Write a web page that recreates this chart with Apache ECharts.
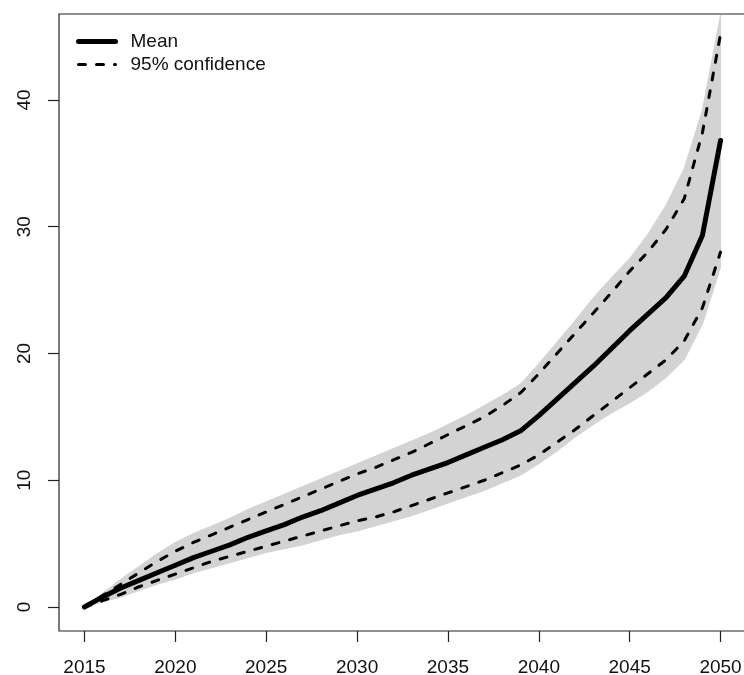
<!DOCTYPE html>
<html>
<head>
<meta charset="utf-8">
<script src="https://cdn.jsdelivr.net/npm/echarts@6/dist/echarts.min.js"></script>
<style>html,body{margin:0;padding:0;background:#fff}#c{width:744px;height:675px}</style>
</head>
<body>
<div id="c"></div>
<script>
const years = [2015,2016,2017,2018,2019,2020,2021,2022,2023,2024,2025,2026,2027,2028,2029,2030,2031,2032,2033,2034,2035,2036,2037,2038,2039,2040,2041,2042,2043,2044,2045,2046,2047,2048,2049,2050];
const meanVals = [0,0.8,1.5,2.1,2.7,3.3,3.9,4.4,4.9,5.5,6.0,6.5,7.1,7.6,8.2,8.8,9.3,9.8,10.4,10.9,11.4,12.0,12.6,13.2,13.9,15.1,16.4,17.7,19.0,20.4,21.8,23.1,24.4,26.1,29.3,36.8];
const upperCI = [0,0.9,1.8,2.7,3.6,4.4,5.1,5.7,6.3,6.9,7.5,8.1,8.7,9.3,9.9,10.5,11.0,11.6,12.2,12.9,13.6,14.3,15.0,15.9,16.9,18.4,20.0,21.6,23.2,24.8,26.5,28.0,29.8,32.2,37.4,45.2];
const lowerCI = [0,0.5,1.0,1.6,2.1,2.6,3.1,3.6,4.0,4.4,4.8,5.2,5.6,6.0,6.4,6.8,7.1,7.5,8.0,8.5,9.0,9.5,10.0,10.6,11.2,12.0,13.0,14.0,15.1,16.2,17.3,18.4,19.5,21.0,23.6,28.0];
const envHigh = [0,1.1,2.2,3.2,4.2,5.1,5.8,6.4,7.0,7.7,8.3,8.9,9.5,10.1,10.7,11.3,11.9,12.5,13.1,13.7,14.4,15.1,15.9,16.7,17.6,19.2,20.9,22.6,24.4,26.0,27.5,29.4,31.7,34.6,39.2,46.7];
const envLow = [0,0.4,0.8,1.3,1.8,2.2,2.7,3.1,3.5,3.9,4.3,4.6,4.9,5.3,5.7,6.0,6.4,6.8,7.2,7.7,8.2,8.7,9.2,9.8,10.4,11.3,12.3,13.4,14.4,15.3,16.1,17.0,18.1,19.5,22.3,26.8];
const xTicks = [2015,2020,2025,2030,2035,2040,2045,2050];
const yTicks = [0,10,20,30,40];

const pairs = v => years.map((y, i) => [y, v[i]]);
const envData = years.map((y, i) => [y, envLow[i], envHigh[i]]);
const font = '"Liberation Sans", Arial, sans-serif';
const txt = { color: '#111', fontFamily: font, fontSize: 19 };
const dashStyle = { color: '#000', width: 3, type: [7, 11], cap: 'round' };

const chart = echarts.init(document.getElementById('c'), null, { renderer: 'canvas' });
chart.setOption({
  animation: false,
  backgroundColor: '#fff',
  grid: {
    left: 59, top: 14, width: 687, height: 617,
    show: true, borderColor: '#222', borderWidth: 1.2,
    containLabel: false, outerBoundsMode: 'none'
  },
  xAxis: {
    type: 'value', min: 2013.6, max: 2051.4,
    splitLine: { show: false },
    axisLine: { show: false, onZero: false },
    axisTick: { show: true, length: 11, lineStyle: { color: '#222', width: 1.2 }, customValues: xTicks },
    axisLabel: { customValues: xTicks, margin: 27, formatter: v => String(v), ...txt }
  },
  yAxis: {
    type: 'value', min: -1.89, max: 46.78,
    splitLine: { show: false },
    axisLine: { show: false, onZero: false },
    axisTick: { show: true, length: 11, lineStyle: { color: '#222', width: 1.2 }, customValues: yTicks },
    axisLabel: { customValues: yTicks, rotate: 90, margin: 25, formatter: v => String(v), ...txt }
  },
  legend: {
    data: ['Mean', '95% confidence'],
    orient: 'vertical', left: 76, top: 32, padding: 0,
    itemWidth: 37, itemHeight: 19, itemGap: 4,
    itemStyle: { opacity: 0 },
    lineStyle: { width: 'inherit' },
    textStyle: { ...txt, padding: [0, 0, 0, 10] }
  },
  series: [
    { name: 'envelope', type: 'custom', data: envData, encode: { x: 0, y: [1, 2] }, silent: true, z: 1,
      renderItem: (params, api) => {
        if (params.dataIndex !== 0) return null;
        const top = envData.map(d => api.coord([d[0], d[2]]));
        const bot = envData.map(d => api.coord([d[0], d[1]])).reverse();
        return { type: 'polygon', shape: { points: top.concat(bot) },
                 style: { fill: '#d3d3d3', stroke: '#d3d3d3', lineWidth: 1 } };
      } },
    { name: '95% confidence', type: 'line', data: pairs(upperCI), symbol: 'none', lineStyle: dashStyle, itemStyle: { color: '#000' }, z: 3 },
    { name: '95% confidence', type: 'line', data: pairs(lowerCI), symbol: 'none', lineStyle: dashStyle, itemStyle: { color: '#000' }, z: 3 },
    { name: 'Mean', type: 'line', data: pairs(meanVals), symbol: 'none', itemStyle: { color: '#000' },
      lineStyle: { color: '#000', width: 5, cap: 'round', join: 'round' }, z: 4 }
  ]
});
</script>
</body>
</html>
